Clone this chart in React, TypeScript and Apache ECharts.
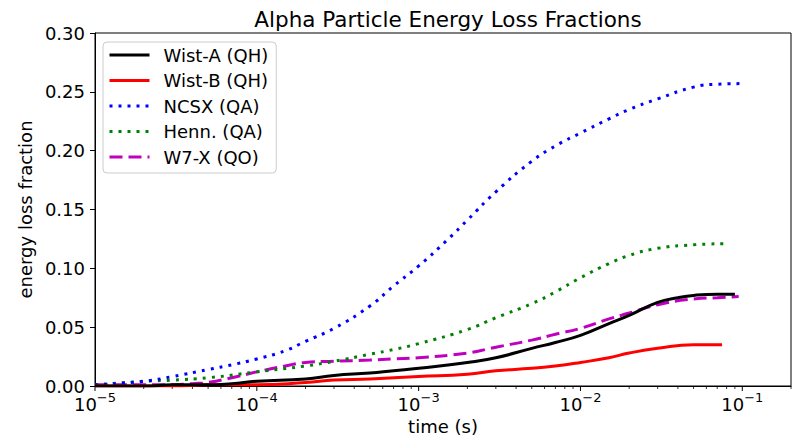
import React, { useEffect, useRef } from 'react';
import * as echarts from 'echarts';

const FONT = 'DejaVu Sans';

const chartTitle = 'Alpha Particle Energy Loss Fractions';
const xAxisName = 'time (s)';
const yAxisName = 'energy loss fraction';
const yTickValues = [0, 0.05, 0.1, 0.15, 0.2, 0.25, 0.3];
const xMajorTicks = [1e-5, 1e-4, 1e-3, 1e-2, 1e-1];

const seriesNames = ['Wist-A (QH)', 'Wist-B (QH)', 'NCSX (QA)', 'Henn. (QA)', 'W7-X (QO)'];

const wistATime = [1e-5, 2e-5, 3e-5, 5e-5, 7e-5, 1e-4, 2e-4, 3e-4, 5e-4, 7e-4, 1e-3, 2e-3, 3e-3, 5e-3, 7e-3, 1e-2, 1.5e-2, 2e-2, 3e-2, 4e-2, 5e-2, 7e-2, 9e-2];
const wistAValues = [0.0, 0.0, 0.001, 0.001, 0.002, 0.004, 0.006, 0.009, 0.011, 0.013, 0.015, 0.020, 0.024, 0.032, 0.037, 0.043, 0.053, 0.060, 0.071, 0.075, 0.077, 0.078, 0.078];

const wistBTime = [1e-5, 3e-5, 5e-5, 1e-4, 2e-4, 3e-4, 5e-4, 1e-3, 2e-3, 3e-3, 5e-3, 7e-3, 1e-2, 1.5e-2, 2e-2, 3e-2, 5e-2, 7.5e-2];
const wistBValues = [0.0, 0.0, 0.001, 0.001, 0.003, 0.005, 0.006, 0.008, 0.010, 0.013, 0.015, 0.017, 0.020, 0.024, 0.028, 0.032, 0.035, 0.035];

const ncsxTime = [1e-5, 2e-5, 3e-5, 5e-5, 7e-5, 1e-4, 1.5e-4, 2e-4, 3e-4, 5e-4, 7e-4, 1e-3, 1.5e-3, 2e-3, 3e-3, 5e-3, 7e-3, 1e-2, 1.5e-2, 2e-2, 3e-2, 5e-2, 7e-2, 1e-1];
const ncsxValues = [0.001, 0.004, 0.008, 0.014, 0.018, 0.023, 0.030, 0.038, 0.049, 0.068, 0.085, 0.102, 0.124, 0.141, 0.165, 0.191, 0.204, 0.215, 0.227, 0.235, 0.244, 0.254, 0.2565, 0.257];

const hennTime = [1e-5, 2e-5, 3e-5, 5e-5, 1e-4, 2e-4, 3e-4, 5e-4, 7e-4, 1e-3, 2e-3, 3e-3, 5e-3, 7e-3, 1e-2, 1.5e-2, 2e-2, 3e-2, 5e-2, 8e-2];
const hennValues = [0.001, 0.004, 0.005, 0.007, 0.012, 0.017, 0.021, 0.027, 0.031, 0.036, 0.048, 0.058, 0.070, 0.080, 0.092, 0.104, 0.111, 0.117, 0.120, 0.121];

const w7xTime = [1e-5, 2e-5, 3e-5, 4e-5, 5e-5, 7e-5, 1e-4, 1.5e-4, 2e-4, 3e-4, 5e-4, 7e-4, 1e-3, 2e-3, 3e-3, 5e-3, 7e-3, 1e-2, 1.5e-2, 2e-2, 3e-2, 5e-2, 7e-2, 9.5e-2];
const w7xValues = [0.001, 0.001, 0.001, 0.002, 0.003, 0.007, 0.012, 0.017, 0.020, 0.021, 0.022, 0.023, 0.024, 0.028, 0.033, 0.039, 0.044, 0.049, 0.057, 0.062, 0.069, 0.074, 0.075, 0.076];

const seriesTimes = [wistATime, wistBTime, ncsxTime, hennTime, w7xTime];
const seriesValues = [wistAValues, wistBValues, ncsxValues, hennValues, w7xValues];
const seriesColors = ['#000000', '#ff0000', '#0000ff', '#008000', '#bf00bf'];
const seriesDash: (string | number[])[] = ['solid', 'solid', [3, 6], [3, 6], [13, 6]];

function buildMinorTicks(): number[] {
  const out: number[] = [];
  for (let k = -5; k <= -1; k++) {
    for (let m = 2; m <= 9; m++) {
      const v = m * Math.pow(10, k);
      if (v <= 0.2 + 1e-12) out.push(v);
    }
  }
  return out;
}

function supLabel(v: number): string {
  const e = Math.round(Math.log10(v));
  if (Math.abs(v - Math.pow(10, e)) / v > 1e-6) return '';
  const sign = e < 0 ? '\u2212' : '';
  return '{b|10}{s|' + sign + Math.abs(e) + '}';
}

export default function App() {
  const ref = useRef<HTMLDivElement>(null);

  useEffect(() => {
    if (!ref.current) return;
    const chart = echarts.init(ref.current, undefined, { renderer: 'svg' });

    const series = seriesNames.map((name, i) => ({
      name,
      type: 'line',
      data: seriesTimes[i].map((t, j) => [t, seriesValues[i][j]]),
      showSymbol: false,
      symbol: 'none',
      smooth: 0.5,
      z: 10 - i,
      lineStyle: {
        color: seriesColors[i],
        width: 3,
        type: seriesDash[i],
        cap: 'butt',
      },
      itemStyle: { color: seriesColors[i] },
      emphasis: { disabled: true },
    }));

    chart.setOption({
      animation: false,
      textStyle: { fontFamily: FONT },
      title: {
        text: chartTitle,
        left: 443,
        top: 3,
        textAlign: 'center',
        textStyle: { fontFamily: FONT, fontSize: 21.5, fontWeight: 'normal', color: '#000' },
      },
      legend: {
        orient: 'vertical',
        left: 103,
        top: 42,
        padding: [3, 8, 6, 5],
        itemWidth: 40,
        itemHeight: 12,
        itemGap: 5.5,
        backgroundColor: '#ffffff',
        borderColor: '#cccccc',
        borderWidth: 1,
        borderRadius: 4,
        selectedMode: false,
        data: seriesNames,
        itemStyle: { opacity: 0, borderWidth: 0 },
        lineStyle: { width: 3 },
        textStyle: { fontFamily: FONT, fontSize: 18, color: '#000', lineHeight: 20, padding: [0, 0, 0, 9] },
      },
      grid: {
        left: 95,
        right: 4,
        top: 33,
        bottom: 50,
        containLabel: false,
        outerBoundsMode: 'none',
        show: true,
        borderColor: '#000',
        borderWidth: 1,
        backgroundColor: 'transparent',
      },
      xAxis: {
        type: 'log',
        logBase: 10,
        min: 1e-5,
        max: 0.2,
        name: xAxisName,
        nameLocation: 'middle',
        nameGap: 25,
        nameTextStyle: { fontFamily: FONT, fontSize: 18, color: '#000' },
        axisLine: { show: true, lineStyle: { color: '#000', width: 1 } },
        axisTick: { show: false },
        splitLine: { show: false },
        minorTick: { show: false },
        axisLabel: {
          margin: 5,
          color: '#000',
          formatter: (v: number) => supLabel(v),
          rich: {
            b: { fontFamily: FONT, fontSize: 18, color: '#000', lineHeight: 22, verticalAlign: 'bottom' },
            s: { fontFamily: FONT, fontSize: 13, color: '#000', lineHeight: 13, verticalAlign: 'top' },
          },
        },
      },
      yAxis: {
        type: 'value',
        min: 0,
        max: 0.3,
        interval: 0.05,
        name: yAxisName,
        nameLocation: 'middle',
        nameGap: 52,
        nameTextStyle: { fontFamily: FONT, fontSize: 18, color: '#000' },
        axisLine: { show: true, lineStyle: { color: '#000', width: 1 } },
        axisTick: { show: true, length: 5, lineStyle: { color: '#000', width: 1 } },
        splitLine: { show: false },
        axisLabel: {
          margin: 10,
          fontFamily: FONT,
          fontSize: 18,
          color: '#000',
          formatter: (v: number) => (yTickValues.some((t) => Math.abs(t - v) < 1e-9) ? v.toFixed(2) : ''),
        },
      },
      series,
    });

    const y0 = chart.convertToPixel({ yAxisIndex: 0 }, 0) as number;
    const tickLines: any[] = [];
    xMajorTicks.forEach((t) => {
      const x = chart.convertToPixel({ xAxisIndex: 0 }, t) as number;
      tickLines.push({
        type: 'line',
        shape: { x1: x, y1: y0, x2: x, y2: y0 + 5 },
        style: { stroke: '#000', lineWidth: 1 },
        silent: true,
      });
    });
    buildMinorTicks().forEach((t) => {
      const x = chart.convertToPixel({ xAxisIndex: 0 }, t) as number;
      tickLines.push({
        type: 'line',
        shape: { x1: x, y1: y0, x2: x, y2: y0 + 3 },
        style: { stroke: '#000', lineWidth: 0.8 },
        silent: true,
      });
    });
    chart.setOption({ graphic: tickLines });

    return () => {
      chart.dispose();
    };
  }, []);

  return (
    <div
      ref={ref}
      style={{ position: 'fixed', left: 0, top: 0, width: 795, height: 436, background: '#fff' }}
    />
  );
}
